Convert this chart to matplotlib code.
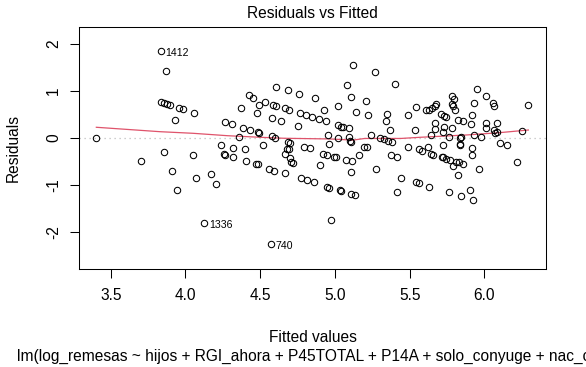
import numpy as np
import matplotlib
matplotlib.use("Agg")
import matplotlib.pyplot as plt

plt.rcParams['font.family'] = ['Liberation Sans', 'DejaVu Sans']

# fitted values and residuals
fitted = [
    3.838, 3.870, 3.838, 3.857, 3.875, 3.897, 3.959, 3.986, 4.059, 3.932,
    3.404, 3.859, 4.053, 4.265, 4.311, 4.385, 4.434, 4.358, 4.374, 4.425,
    4.454, 4.490, 4.479, 4.240, 4.318, 4.400, 4.260, 4.267, 4.318, 3.703,
    4.405, 4.470, 4.483, 3.912, 4.173, 4.073, 4.206, 3.945, 4.126,
    5.123, 5.270, 5.404, 5.083, 4.608, 4.688, 4.762, 4.865, 5.109, 5.210,
    4.534, 4.584, 4.606, 4.666, 4.695, 4.766, 4.806, 4.847, 4.895, 4.942,
    4.929, 5.022, 5.143, 5.221, 5.346, 5.343, 5.489, 4.581, 4.641, 4.755,
    5.022, 5.040, 5.056, 5.094, 5.366, 4.485, 4.489, 4.956, 5.239, 4.577,
    4.599, 5.022, 5.092, 5.301, 5.330, 5.353, 5.380, 5.103, 5.107, 4.684,
    4.701, 4.521, 4.962, 4.795, 4.831, 5.192, 5.214, 5.489, 4.677, 4.693,
    4.664, 4.699, 4.923, 4.947, 4.994, 5.007, 5.077, 5.111, 5.163, 5.375,
    5.415, 4.708, 4.717, 4.902, 4.557, 4.594, 4.666, 5.109, 5.275, 4.775,
    4.815, 4.862, 4.947, 4.958, 5.036, 5.042, 5.107, 5.136, 5.444, 5.415,
    4.976, 4.574,
    5.950, 6.008, 5.783, 5.796, 5.674, 5.667, 5.651, 5.629, 5.609, 5.544,
    5.785, 5.792, 5.803, 5.930, 6.057, 6.066, 6.294, 5.707, 5.731, 5.743,
    5.821, 5.857, 5.919, 5.667, 5.731, 5.785, 5.913, 6.008, 6.087, 6.008,
    6.066, 6.087, 5.535, 5.669, 5.725, 5.763, 5.644, 5.933, 5.977, 5.845,
    5.836, 6.249, 5.834, 5.838, 5.561, 5.584, 5.624, 5.642, 5.658, 5.723,
    5.919, 5.919, 6.105, 6.153, 5.714, 5.725, 5.741, 5.772, 5.792, 5.810,
    5.832, 5.855, 5.821, 5.966, 6.220, 5.542, 5.564, 5.631, 5.765, 5.845,
    5.905, 5.925, 6.072,
]
residuals = [
    1.845, 1.419, 0.766, 0.745, 0.723, 0.696, 0.638, 0.611, 0.526, 0.383,
    0.000, -0.304, -0.362, 0.340, 0.298, 0.213, 0.170, 0.015, 0.638, 0.915,
    0.845, 0.696, 0.526, -0.149, -0.213, -0.234, -0.340, -0.368, -0.404, -0.496,
    -0.496, -0.560, -0.560, -0.709, -0.774, -0.859, -0.985, -1.113, -1.815,
    1.553, 1.398, 1.149, 1.121, 1.079, 1.015, 0.936, 0.845, 0.866, 0.781,
    0.766, 0.696, 0.681, 0.632, 0.596, 0.532, 0.489, 0.440, 0.404, 0.362,
    0.589, 0.674, 0.553, 0.483, 0.504, 0.362, 0.483, 0.419, 0.362, 0.249,
    0.270, 0.240, 0.228, 0.206, 0.170, 0.121, 0.106, 0.057, 0.057, 0.043,
    0.000, -0.006, 0.028, 0.006, -0.028, -0.057, -0.085, -0.070, -0.091, -0.091,
    -0.100, -0.155, -0.134, -0.198, -0.213, -0.191, -0.191, -0.198, -0.234, -0.240,
    -0.347, -0.419, -0.340, -0.357, -0.394, -0.398, -0.464, -0.485, -0.366, -0.366,
    -0.404, -0.511, -0.532, -0.581, -0.653, -0.696, -0.751, -0.730, -0.666, -0.857,
    -0.900, -0.943, -1.036, -1.057, -1.113, -1.134, -1.198, -1.219, -0.845, -1.155,
    -1.745, -2.262,
    1.043, 0.887, 0.887, 0.836, 0.723, 0.681, 0.645, 0.596, 0.596, 0.666,
    0.723, 0.681, 0.596, 0.745, 0.738, 0.681, 0.696, 0.504, 0.462, 0.453,
    0.383, 0.355, 0.489, 0.313, 0.240, 0.206, 0.298, 0.313, 0.313, 0.206,
    0.170, 0.121, 0.170, 0.185, 0.117, 0.028, 0.064, 0.064, 0.015, 0.021,
    -0.006, 0.149, -0.128, -0.149, -0.230, -0.283, -0.185, -0.345, -0.362, -0.149,
    -0.213, -0.362, -0.113, -0.149, -0.411, -0.411, -0.440, -0.468, -0.596, -0.517,
    -0.517, -0.560, -0.794, -0.666, -0.517, -0.943, -0.964, -1.036, -1.155, -1.240,
    -1.113, -1.326, 0.106,
]

# smoother (red line)
smooth_x = [3.404, 3.83, 4.05, 4.28, 4.50, 4.66, 4.97, 5.12, 5.20, 5.44, 5.57, 5.88, 6.10, 6.294]
smooth_y = [0.228, 0.134, 0.100, 0.049, 0.015, -0.006, -0.021, -0.045, -0.010, -0.010, 0.015, 0.064, 0.113, 0.170]

# labelled observations
id_labels = ["1412", "1336", "740"]
id_x = [3.838, 4.126, 4.574]
id_y = [1.845, -1.815, -2.262]

x_ticks = [3.5, 4.0, 4.5, 5.0, 5.5, 6.0]
y_ticks = [-2, -1, 0, 1, 2]

sub_caption = "lm(log_remesas ~ hijos + RGI_ahora + P45TOTAL + P14A + solo_conyuge + nac_c ..."

fs = 11.2
fig = plt.figure(figsize=(5.86, 3.67), dpi=100)
ax = fig.add_axes([79 / 586, 1 - 269.3 / 367, (546 - 79) / 586, (269.3 - 26.7) / 367])

ax.axhline(0, color="#BEBEBE", linestyle=(0, (1, 3)), linewidth=0.9, zorder=1)
ax.plot(fitted, residuals, "o", markersize=4.6, markerfacecolor="none",
        markeredgecolor="black", markeredgewidth=0.75, zorder=3)
ax.plot(smooth_x, smooth_y, color="#DF536B", linewidth=0.9, zorder=2)

for lab, xx, yy in zip(id_labels, id_x, id_y):
    ax.annotate(lab, (xx, yy), xytext=(3.2, -1.2), textcoords="offset points",
                ha="left", va="center", fontsize=7.6)

ax.set_xlim(3.288, 6.412)
ax.set_ylim(-2.794, 2.368)
ax.set_xticks(x_ticks)
ax.set_xticklabels([f"{v:.1f}" for v in x_ticks])
ax.set_yticks(y_ticks)
ax.set_yticklabels([str(v) for v in y_ticks], rotation=90, va="center")
ax.tick_params(direction="out", length=6.3, width=0.75, labelsize=fs, pad=7.5)
ax.tick_params(axis="y", pad=6.5)
for sp in ax.spines.values():
    sp.set_linewidth(0.75)

cx = (79 + 546) / 2 / 586
fig.text(cx, 1 - 13 / 367, "Residuals vs Fitted", ha="center", va="center", fontsize=fs)
fig.text(cx, 1 - 337 / 367, "Fitted values", ha="center", va="center", fontsize=fs)
fig.text(cx, 1 - 356.5 / 367, sub_caption, ha="center", va="center", fontsize=fs)
fig.text(13 / 586, 1 - 148 / 367, "Residuals", ha="center", va="center", rotation=90, fontsize=fs)

fig.savefig("out.png", dpi=100)
